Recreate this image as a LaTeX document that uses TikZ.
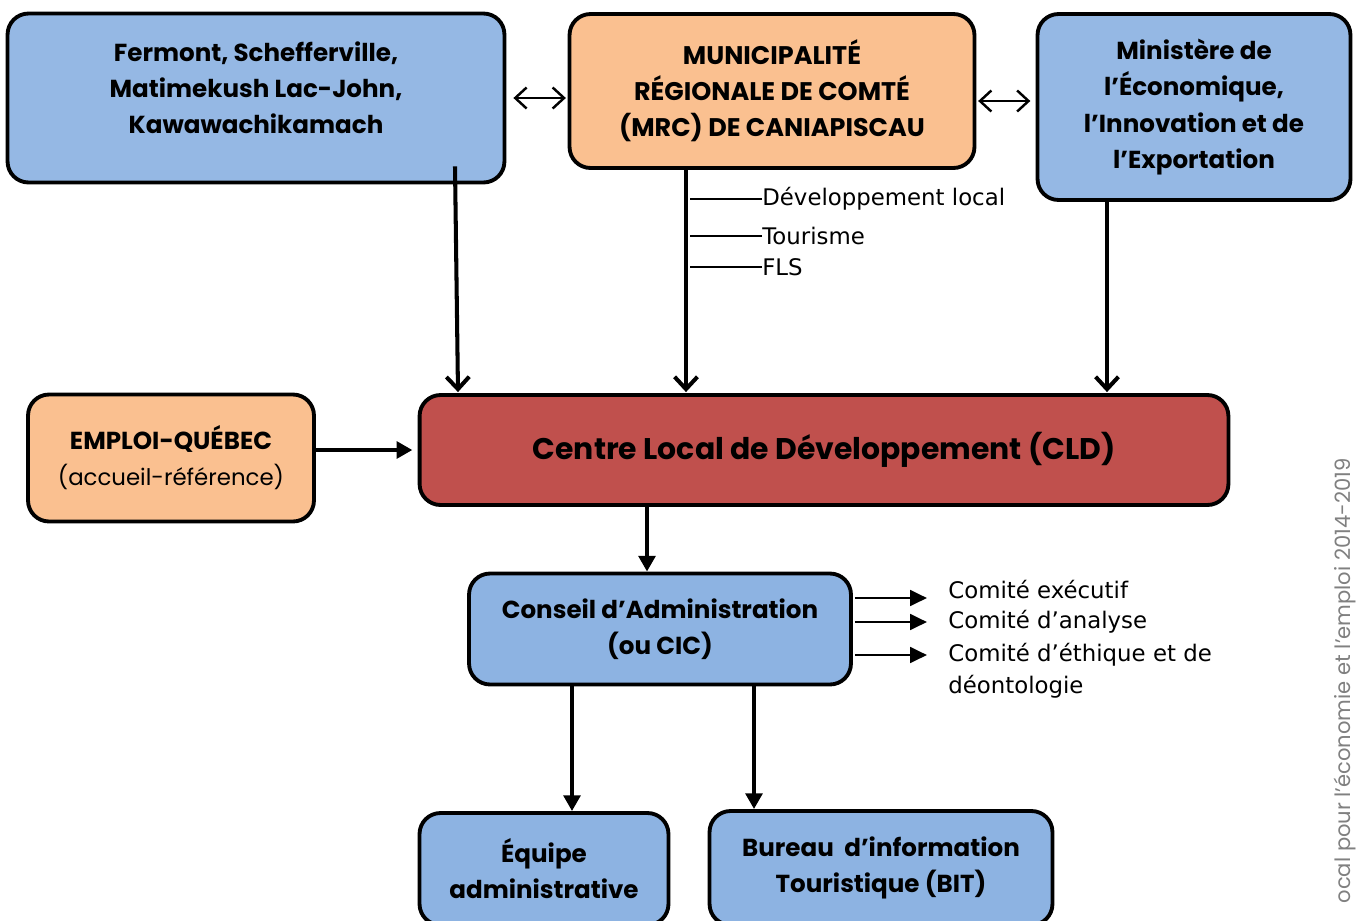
\documentclass[tikz,border=0pt]{standalone}
\usepackage{fontspec}
\setmainfont{Poppins}
\newfontfamily\labfont{DejaVu Sans}
\usetikzlibrary{arrows.meta,positioning}

\definecolor{bleu}{HTML}{8DB3E2}
\definecolor{bleuclair}{HTML}{95B8E4}
\definecolor{orangeclair}{HTML}{FAC090}
\definecolor{rouge}{HTML}{C0504D}

\begin{document}
\begin{tikzpicture}[x=0.02cm, y=-0.02cm,
  boite/.style={draw, line width=2.2pt, rounded corners=0.42cm, align=center, inner sep=0pt,
    font=\bfseries\fontsize{14}{20.5}\selectfont},
  ouvert/.style={-{Straight Barb[length=7pt,width=13pt]}, line width=2.3pt},
  pleine/.style={-{Triangle[length=9pt,width=9.5pt]}, line width=2.3pt},
  fine/.style={-{Triangle[length=9.5pt,width=9pt]}, line width=1.1pt},
  doublefl/.style={{Straight Barb[length=6.5pt,width=12pt]}-{Straight Barb[length=6.5pt,width=12pt]}, line width=1.4pt},
  trait/.style={line width=0.9pt},
  etiq/.style={font=\labfont\fontsize{13}{18}\selectfont, inner sep=0pt, anchor=west, align=left}]

\useasboundingbox (0,0) rectangle (1359,920);

% Boites du haut
\node[boite, fill=bleuclair, minimum width=9.94cm, minimum height=3.38cm] (fermont) at (256,98)
  {Fermont, Schefferville,\\Matimekush Lac-John,\\Kawawachikamach\\[-9pt]\mbox{}};
\node[boite, fill=orangeclair, minimum width=8.1cm, minimum height=3.08cm,
  font=\bfseries\fontsize{14.5}{20.5}\selectfont] (mrc) at (772,91)
  {MUNICIPALITÉ\\RÉGIONALE DE COMTÉ\\(MRC) DE CANIAPISCAU};
\node[boite, fill=bleuclair, minimum width=6.26cm, minimum height=3.72cm] (ministere) at (1194,107)
  {Ministère de\\l’Économique,\\l’Innovation et de\\l’Exportation};

% Boites du milieu
\node[boite, fill=orangeclair, minimum width=5.72cm, minimum height=2.54cm] (emploi) at (171,458)
  {EMPLOI-QUÉBEC\\\mdseries\fontsize{13}{20.5}\selectfont(accueil-référence)};
\node[boite, fill=rouge, minimum width=16.18cm, minimum height=2.2cm,
  font=\bfseries\fontsize{17}{20}\selectfont] (cld) at (824,450)
  {Centre Local de Développement (CLD)};
\node[boite, fill=bleu, minimum width=7.64cm, minimum height=2.22cm] (conseil) at (660,629)
  {Conseil d’Administration\\(ou CIC)};

% Boites du bas
\node[boite, fill=bleu, minimum width=4.98cm, minimum height=2.24cm] (equipe) at (544,869)
  {Équipe\\administrative};
\node[boite, fill=bleu, minimum width=6.86cm, minimum height=2.28cm] (bureau) at (881,868)
  {Bureau\ \ d’information\\Touristique (BIT)};

% Etiquettes
\node[etiq] (dev) at (762,199) {Développement local};
\node[etiq] (tour) at (762,236) {Tourisme};
\node[etiq] (fls) at (762,267) {FLS};
\node[etiq] (exec) at (948,590) {Comité exécutif};
\node[etiq] (analyse) at (948,622) {Comité d’analyse};
\node[etiq] (ethique) at (948,671) {Comité d’éthique et de\\déontologie};
\node[rotate=90, anchor=east, inner sep=0pt, text=gray,
  font=\fontsize{12}{14}\selectfont] (bandeau) at (1345,458)
  {ocal pour l'économie et l'emploi 2014-2019};

% Fleches
\draw[doublefl, shorten <=4pt, shorten >=1pt] (fermont.east) -- (fermont.east -| mrc.west);
\draw[doublefl, shorten <=1pt, shorten >=3pt] ([shift={(0,10)}]mrc.east) -- ([shift={(0,10)}]mrc.east -| ministere.west);
\draw[ouvert] ([shift={(199,-18)}]fermont.south) -- ([shift={(-366,-1)}]cld.north);
\draw[ouvert] ([shift={(-86,0)}]mrc.south) -- ([shift={(-138,-1)}]cld.north);
\draw[ouvert] ([shift={(-87,0)}]ministere.south) -- ([shift={(283,-1)}]cld.north);
\draw[pleine, shorten >=3pt] (emploi.east |- cld.west) -- (cld.west);
\draw[pleine] ([shift={(-177,0)}]cld.south) -- ([shift={(-13,0)}]conseil.north);
\draw[pleine] ([shift={(-88,0)}]conseil.south) -- ([shift={(28,0)}]equipe.north);
\draw[pleine] ([shift={(94,0)}]conseil.south) -- ([shift={(-127,0)}]bureau.north);

% Lignes MRC
\draw[trait] (dev.west) -- ++(-72,0);
\draw[trait] (tour.west) -- ++(-72,0);
\draw[trait] (fls.west) -- ++(-72,0);

% Comites
\draw[fine] ([shift={(2,-31)}]conseil.east) -- ++(72,0);
\draw[fine] ([shift={(2,-7)}]conseil.east) -- ++(72,0);
\draw[fine] ([shift={(2,26)}]conseil.east) -- ++(72,0);

\end{tikzpicture}
\end{document}
